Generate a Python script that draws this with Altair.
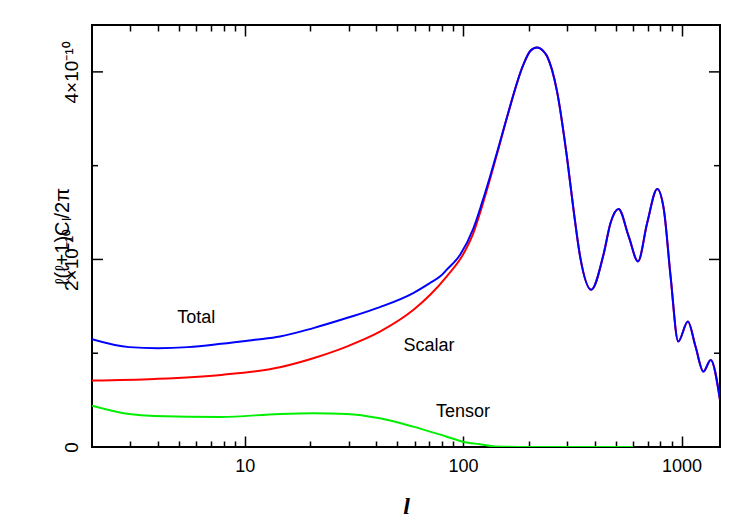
import altair as alt
import pandas as pd

# ---- data ----
total_l = [2, 2.96, 4.0, 5.5, 7.8, 11.1, 14.5, 20.6, 29.3, 41.6, 59.1, 70.5, 78.6, 84.2, 96.9,
           111.4, 121.9, 133, 145, 158.6, 189, 203, 218, 233, 242, 269, 299, 321, 344, 386,
           441, 473, 515, 573, 632, 696, 774, 830, 891, 966, 1069, 1159, 1259, 1360, 1500]
total_v = [1.150e-10, 1.065e-10, 1.054e-10, 1.065e-10, 1.100e-10, 1.143e-10, 1.178e-10, 1.268e-10,
           1.375e-10, 1.492e-10, 1.642e-10, 1.749e-10, 1.820e-10, 1.891e-10, 2.050e-10,
           2.330e-10, 2.600e-10, 2.887e-10, 3.190e-10, 3.511e-10, 4.080e-10, 4.222e-10, 4.259e-10,
           4.222e-10, 4.169e-10, 3.795e-10, 3.087e-10, 2.513e-10, 2.019e-10, 1.677e-10,
           2.069e-10, 2.389e-10, 2.539e-10, 2.246e-10, 1.979e-10, 2.389e-10, 2.752e-10, 2.531e-10,
           1.819e-10, 1.125e-10, 1.338e-10, 1.071e-10, 0.804e-10, 0.929e-10, 0.502e-10]

scalar_l = [2, 3.86, 7.8, 14.5, 20.6, 29.3, 41.6, 59.1, 70.5, 84.2, 100.4, 111.4, 121.9, 133, 145]
scalar_v = [0.708e-10, 0.726e-10, 0.769e-10, 0.851e-10, 0.947e-10, 1.071e-10, 1.230e-10, 1.460e-10,
            1.620e-10, 1.820e-10, 2.060e-10, 2.280e-10, 2.560e-10, 2.860e-10, 3.175e-10]

tensor_l = [2, 2.96, 3.86, 7.8, 14.5, 20.7, 29.3, 41.6, 59.1, 84.2, 100, 119, 141, 200, 600]
tensor_v = [0.441e-10, 0.352e-10, 0.331e-10, 0.320e-10, 0.353e-10, 0.360e-10, 0.353e-10, 0.306e-10,
            0.217e-10, 0.110e-10, 0.057e-10, 0.029e-10, 0.005e-10, 0.0, 0.0]

x_major = [10.0, 100.0, 1000.0]
x_minor = [3.0, 4.0, 5.0, 6.0, 7.0, 8.0, 9.0, 20.0, 30.0, 40.0, 50.0, 60.0, 70.0, 80.0, 90.0,
           200.0, 300.0, 400.0, 500.0, 600.0, 700.0, 800.0, 900.0]
y_major = [0, 2e-10, 4e-10]
y_minor = [1e-10, 3e-10]

labels = ["Total", "Scalar", "Tensor"]
label_l = [6.0, 69.8, 100]
label_v = [1.378e-10, 1.073e-10, 0.368e-10]

W, H = 628, 422
YMAX = 4.5e-10
MAJ, MIN = 11, 6

# scalar continues identically to total beyond the merge point
sc_l = scalar_l + [l for l in total_l if l > scalar_l[-1]]
sc_v = scalar_v + [v for l, v in zip(total_l, total_v) if l > scalar_l[-1]]

df_total = pd.DataFrame({"l": total_l, "v": total_v})
df_scalar = pd.DataFrame({"l": sc_l, "v": sc_v})
df_tensor = pd.DataFrame({"l": tensor_l, "v": tensor_v})
df_lab = pd.DataFrame({"t": labels, "l": label_l, "v": label_v})

FONT = "Liberation Sans"

xscale = alt.Scale(type="log", domain=[2, 1500], nice=False)
yscale = alt.Scale(domain=[0, YMAX], nice=False)

major_test = " || ".join(f"datum.value == {int(v)}" for v in x_major)
dash_major = [MAJ, H - 2 * MAJ, MAJ]
dash_minor = [MIN, H - 2 * MIN, MIN]


def build(conditional=True):
    if conditional:
        grid_dash = {"condition": {"test": major_test, "value": dash_major}, "value": dash_minor}
    else:
        grid_dash = dash_minor
    xax = alt.Axis(values=x_major + x_minor, ticks=False, tickSize=0, domain=False,
                   grid=True, gridColor="black", gridWidth=1.5, gridOpacity=1, gridDash=grid_dash,
                   labelExpr=f"({major_test}) ? format(datum.value, 'd') : ''",
                   labelOverlap=False, labelFlush=False,
                   labelFontSize=18, labelFont=FONT, labelColor="black", labelPadding=10,
                   title="l", titleFont="Liberation Serif", titleFontStyle="italic",
                   titleFontSize=24, titleFontWeight="bold", titleColor="black",
                   titleBaseline="alphabetic", titleY=66)
    yax = alt.Axis(values=y_major, ticks=False, tickSize=0, domain=False, grid=False,
                   labelExpr="datum.value == 0 ? '0' : round(datum.value*1e10) + '×10⁻¹⁰'",
                   labelAngle=270, labelAlign="center", labelBaseline="alphabetic",
                   labelFontSize=19, labelFont=FONT, labelColor="black", labelPadding=15,
                   title="ℓ(ℓ+1)Cₗ/2π", titleAngle=270, titleAlign="center", titleBaseline="bottom",
                   titleX=-20, titleY=H / 2, titleFont=FONT, titleFontSize=20,
                   titleFontWeight="normal", titleColor="black")

    X = alt.X("l:Q", scale=xscale, axis=xax)
    Y = alt.Y("v:Q", scale=yscale, axis=yax)

    def curve(df, color):
        return alt.Chart(df).mark_line(color=color, strokeWidth=2, interpolate="monotone",
                                       clip=True).encode(x=X, y=Y)

    tensor = curve(df_tensor, "#00ee00")
    scalar = curve(df_scalar, "#ff0000")
    total = curve(df_total, "#0000ff")

    text = alt.Chart(df_lab).mark_text(font=FONT, fontSize=18, color="black").encode(
        x=X, y=Y, text="t:N")

    def yticks(vals, length, left=True):
        d = pd.DataFrame({"v": vals})
        if left:
            return alt.Chart(d).mark_rule(color="black", strokeWidth=1.5).encode(
                y=Y, x=alt.value(0), x2=alt.value(length))
        return alt.Chart(d).mark_rule(color="black", strokeWidth=1.5).encode(
            y=Y, x=alt.value(W), x2=alt.value(W - length))

    return alt.layer(
        tensor, scalar, total, text,
        yticks(y_major, MAJ), yticks(y_minor, MIN),
        yticks(y_major, MAJ, False), yticks(y_minor, MIN, False),
    ).properties(
        width=W, height=H,
        autosize=alt.AutoSizeParams(type="none"),
        padding={"left": 84, "top": 17, "right": 25, "bottom": 70},
        background="white",
    ).configure_view(stroke="black", strokeWidth=2)


try:
    chart = build(True)
    chart.to_dict()
except Exception:
    chart = build(False)

chart.save("out.html", embed_options={"renderer": "svg", "actions": False})
